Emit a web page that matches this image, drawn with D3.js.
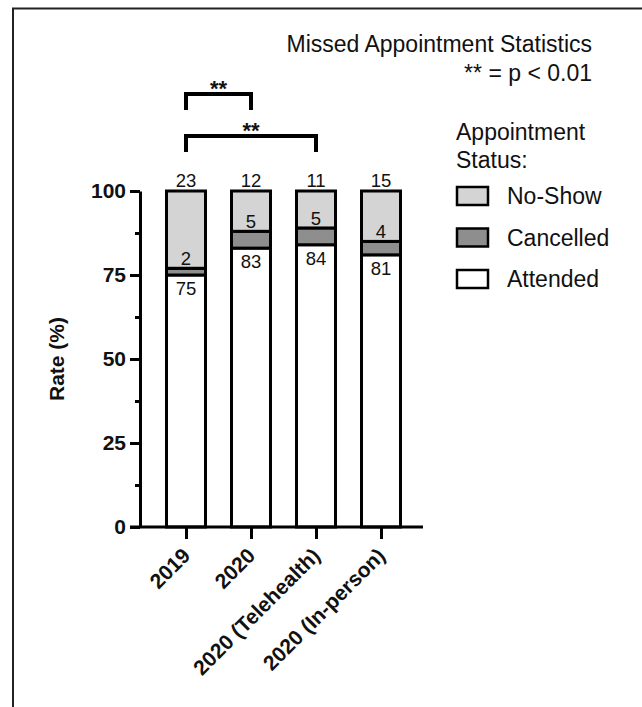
<!DOCTYPE html>
<html>
<head>
<meta charset="utf-8">
<script src="https://cdn.jsdelivr.net/npm/d3@7"></script>
<style>
  body { margin: 0; background: #fff; }
  text { font-family: "Liberation Sans", Arial, sans-serif; fill: #111; }
</style>
</head>
<body>
<div id="chart"></div>
<script>
const categories = ['2019', '2020', '2020 (Telehealth)', '2020 (In-person)']
const attended = [75, 83, 84, 81]
const cancelled = [2, 5, 5, 4]
const noShow = [23, 12, 11, 15]
const yTicks = [0, 25, 50, 75, 100]
const yMinorTicks = [12.5, 37.5, 62.5, 87.5]
const legendLabels = ['No-Show', 'Cancelled', 'Attended']
const legendColors = ['#d4d4d4', '#8e8e8e', '#ffffff']
const comparisons = [
    { from: '2019', to: '2020', label: '**' },
    { from: '2019', to: '2020 (Telehealth)', label: '**' }
]

const width = 642
const height = 707
const barWidth = 39

const svg = d3.select('#chart')
    .append('svg')
    .attr('width', width)
    .attr('height', height)

// frame round the figure (only top and left are visible)
svg.append('path')
    .attr('d', 'M13,707 V8.5 H642')
    .attr('fill', 'none')
    .attr('stroke', '#222')
    .attr('stroke-width', 2)

const x = d3.scalePoint()
    .domain(categories)
    .range([186, 381])

const y = d3.scaleLinear()
    .domain([0, 100])
    .range([527, 191])

const rows = categories.map((c, i) => ({
    category: c,
    attended: attended[i],
    cancelled: cancelled[i],
    noShow: noShow[i]
}))

const keys = ['attended', 'cancelled', 'noShow']
const fills = { attended: '#ffffff', cancelled: '#8e8e8e', noShow: '#d4d4d4' }
const stacked = d3.stack().keys(keys)(rows)

// bars
stacked.forEach(layer => {
    svg.append('g')
        .selectAll('rect')
        .data(layer)
        .join('rect')
        .attr('x', d => x(d.data.category) - barWidth / 2)
        .attr('y', d => y(d[1]))
        .attr('width', barWidth)
        .attr('height', d => y(d[0]) - y(d[1]))
        .attr('fill', fills[layer.key])
        .attr('stroke', '#000')
        .attr('stroke-width', 3)
})

// value labels
const noShowLayer = stacked[2]
const cancelledLayer = stacked[1]
const attendedLayer = stacked[0]

svg.append('g')
    .selectAll('text')
    .data(noShowLayer)
    .join('text')
    .attr('x', d => x(d.data.category))
    .attr('y', d => y(d[1]) - 4)
    .attr('text-anchor', 'middle')
    .attr('font-size', 18.5)
    .text(d => d.data.noShow)

svg.append('g')
    .selectAll('text')
    .data(cancelledLayer)
    .join('text')
    .attr('x', d => x(d.data.category))
    .attr('y', d => y(d[1]) - 3)
    .attr('text-anchor', 'middle')
    .attr('font-size', 18.5)
    .text(d => d.data.cancelled)

svg.append('g')
    .selectAll('text')
    .data(attendedLayer)
    .join('text')
    .attr('x', d => x(d.data.category))
    .attr('y', d => y(d[1]) + 20)
    .attr('text-anchor', 'middle')
    .attr('font-size', 18.5)
    .text(d => d.data.attended)

// y axis
const yAxis = svg.append('g')
    .attr('transform', 'translate(140,0)')
    .call(d3.axisLeft(y).tickValues(yTicks).tickSize(10).tickSizeOuter(0).tickPadding(4))

yAxis.select('.domain').attr('stroke-width', 3)
yAxis.selectAll('.tick line').attr('stroke-width', 3)
yAxis.selectAll('.tick text')
    .attr('font-size', 21)
    .attr('font-weight', 'bold')
    .attr('font-family', '"Liberation Sans", Arial, sans-serif')
    .attr('fill', '#111')

const yMinor = svg.append('g')
    .attr('transform', 'translate(140,0)')
    .call(d3.axisLeft(y).tickValues(yMinorTicks).tickSize(5).tickFormat(''))
yMinor.select('.domain').remove()
yMinor.selectAll('.tick line').attr('stroke-width', 3)

// x axis
svg.append('line')
    .attr('x1', 130)
    .attr('x2', x.range()[1] + 42)
    .attr('y1', y(0))
    .attr('y2', y(0))
    .attr('stroke', '#000')
    .attr('stroke-width', 3)

const xAxis = svg.append('g')
    .attr('transform', `translate(0,${y(0)})`)
    .call(d3.axisBottom(x).tickSize(12).tickSizeOuter(0))

xAxis.select('.domain').remove()
xAxis.selectAll('.tick line').attr('stroke-width', 3)
xAxis.selectAll('.tick text')
    .attr('font-size', 21)
    .attr('font-weight', 'bold')
    .attr('font-family', '"Liberation Sans", Arial, sans-serif')
    .attr('fill', '#111')
    .attr('text-anchor', 'end')
    .attr('dy', 0)
    .attr('transform', 'translate(5,30) rotate(-45)')
    .attr('y', 0)

// y axis title
svg.append('text')
    .attr('transform', `translate(64,${(y(0) + y(100)) / 2}) rotate(-90)`)
    .attr('text-anchor', 'middle')
    .attr('font-size', 21)
    .attr('font-weight', 'bold')
    .text('Rate (%)')

// significance brackets
const bracketY = [94, 136]
comparisons.forEach((c, i) => {
    const x1 = x(c.from)
    const x2 = x(c.to)
    const by = bracketY[i]
    svg.append('path')
        .attr('d', `M${x1},${by + 16} V${by} H${x2} V${by + 16}`)
        .attr('fill', 'none')
        .attr('stroke', '#000')
        .attr('stroke-width', 4)
    svg.append('text')
        .attr('x', (x1 + x2) / 2)
        .attr('y', by + 2)
        .attr('text-anchor', 'middle')
        .attr('font-size', 22)
        .attr('font-weight', 'bold')
        .text(c.label)
})

// title
svg.append('text')
    .attr('x', 592)
    .attr('y', 52)
    .attr('text-anchor', 'end')
    .attr('font-size', 23)
    .text('Missed Appointment Statistics')

svg.append('text')
    .attr('x', 592)
    .attr('y', 81)
    .attr('text-anchor', 'end')
    .attr('font-size', 23)
    .text('** = p < 0.01')

// legend
const legend = svg.append('g').attr('transform', 'translate(456,0)')

legend.append('text')
    .attr('x', 0)
    .attr('y', 140)
    .attr('font-size', 23)
    .text('Appointment')

legend.append('text')
    .attr('x', 0)
    .attr('y', 168)
    .attr('font-size', 23)
    .text('Status:')

const items = legend.selectAll('g.item')
    .data(legendLabels)
    .join('g')
    .attr('class', 'item')
    .attr('transform', (d, i) => `translate(0,${187 + i * 41.5})`)

items.append('rect')
    .attr('x', 1)
    .attr('y', 0)
    .attr('width', 31)
    .attr('height', 18)
    .attr('fill', (d, i) => legendColors[i])
    .attr('stroke', '#000')
    .attr('stroke-width', 2.5)

items.append('text')
    .attr('x', 51)
    .attr('y', 17)
    .attr('font-size', 23)
    .text(d => d)
</script>
</body>
</html>
